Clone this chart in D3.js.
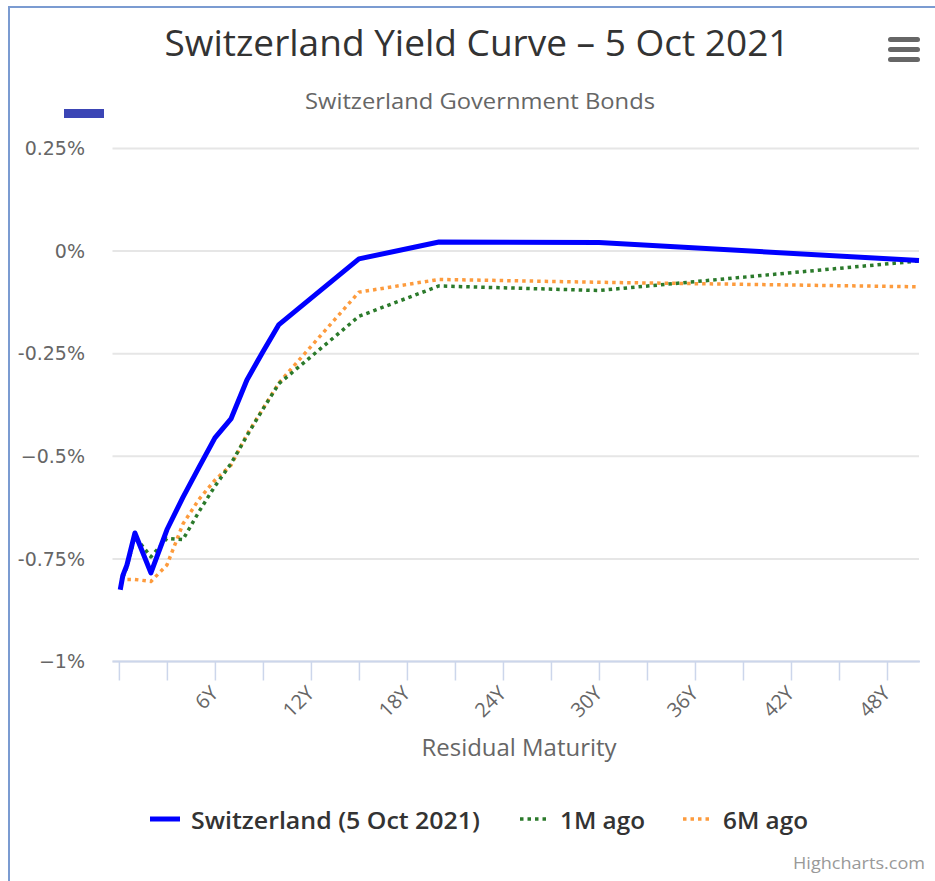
<!DOCTYPE html>
<html>
<head>
<meta charset="utf-8">
<script src="https://cdn.jsdelivr.net/npm/d3@7"></script>
<style>
  body { margin: 0; background: white; }
  svg { display: block; }
</style>
</head>
<body>
<svg id="chart"></svg>
<script>
// residual maturity in years
var maturities = [0.083, 0.25, 0.5, 1, 2, 3, 4, 5, 6, 7, 8, 9, 10, 15, 20, 30, 50];

// yields in %
var switzerland  = [-0.825, -0.79, -0.765, -0.687, -0.784, -0.679, -0.60, -0.527, -0.455, -0.409, -0.314, -0.245, -0.179, -0.019, 0.022, 0.021, -0.023];
var oneMonthAgo  = [null, -0.795, -0.77, -0.695, -0.745, -0.70, -0.703, -0.635, -0.573, -0.518, -0.45, -0.385, -0.323, -0.159, -0.085, -0.096, -0.024];
var sixMonthsAgo = [-0.795, -0.797, -0.80, -0.80, -0.805, -0.765, -0.665, -0.605, -0.558, -0.522, -0.447, -0.384, -0.321, -0.10, -0.069, -0.076, -0.087];

var seriesNames = ["Switzerland (5 Oct 2021)", "1M ago", "6M ago"];

var yTicks = [0.25, 0, -0.25, -0.5, -0.75, -1];
var yTickLabels = ["0.25%", "0%", "-0.25%", "\u22120.5%", "-0.75%", "\u22121%"];
var xTicks = [0, 3, 6, 9, 12, 15, 18, 21, 24, 27, 30, 33, 36, 39, 42, 45, 48];
var xLabelled = [6, 12, 18, 24, 30, 36, 42, 48];

var W = 935, H = 881;
var plot = {left: 112.5, right: 919, top: 148.5, bottom: 661.5};
var condensed = "'Liberation Sans Narrow', 'Open Sans', sans-serif";

var svg = d3.select("#chart").attr("width", W).attr("height", H);

// chart border (only top and left visible in the crop)
svg.append("rect")
   .attr("x", 9).attr("y", 7)
   .attr("width", W + 20).attr("height", H + 20)
   .attr("fill", "white")
   .attr("stroke", "#7b9bd1").attr("stroke-width", 2);

var x = d3.scaleLinear().domain([-0.4, 50]).range([plot.left, plot.right]);
var y = d3.scaleLinear().domain([-1, 0.25]).range([plot.bottom, plot.top]);

// title & subtitle
svg.append("text")
   .attr("x", 477).attr("y", 56)
   .attr("text-anchor", "middle")
   .attr("textLength", 625).attr("lengthAdjust", "spacingAndGlyphs")
   .style("font-family", condensed).style("font-size", "36px").style("fill", "#333")
   .text("Switzerland Yield Curve \u2013 5 Oct 2021");

svg.append("text")
   .attr("x", 480).attr("y", 109)
   .attr("text-anchor", "middle")
   .attr("textLength", 350).attr("lengthAdjust", "spacingAndGlyphs")
   .style("font-family", condensed).style("font-size", "22px").style("fill", "#666")
   .text("Switzerland Government Bonds");

// export menu icon
svg.append("g").selectAll("rect")
   .data([39.5, 49.5, 59.5])
   .enter().append("rect")
   .attr("x", 888).attr("y", d => d - 2.5)
   .attr("width", 32).attr("height", 5)
   .attr("rx", 2.5)
   .attr("fill", "#666");

// small blue marker top-left
svg.append("rect")
   .attr("x", 64).attr("y", 109).attr("width", 40).attr("height", 9)
   .attr("fill", "#3b45b5");

// grid + y labels
var gy = svg.append("g");
gy.selectAll("line")
  .data(yTicks)
  .enter().append("line")
  .attr("x1", plot.left).attr("x2", plot.right)
  .attr("y1", d => y(d)).attr("y2", d => y(d))
  .attr("stroke", "#e6e6e6").attr("stroke-width", 2);

gy.selectAll("text")
  .data(yTicks)
  .enter().append("text")
  .attr("x", 85).attr("y", d => y(d))
  .attr("dy", "0.35em")
  .attr("text-anchor", "end")
  .style("font-family", "'DejaVu Sans', sans-serif").style("font-size", "19px").style("fill", "#666")
  .text((d, i) => yTickLabels[i]);

// x axis
var xAxis = d3.axisBottom(x)
  .tickValues(xTicks)
  .tickSize(19)
  .tickFormat(d => xLabelled.indexOf(d) >= 0 ? d + "Y" : "");

var gx = svg.append("g")
  .attr("transform", "translate(0," + plot.bottom + ")")
  .call(xAxis);

gx.select(".domain").attr("stroke", "#ccd6eb").attr("stroke-width", 2)
  .attr("d", "M" + plot.left + ",0H" + (plot.right + 1));
gx.selectAll(".tick line").attr("stroke", "#ccd6eb").attr("stroke-width", 1.5);
gx.selectAll(".tick text")
  .style("font-family", condensed).style("font-size", "20px").style("fill", "#666")
  .attr("text-anchor", "end")
  .attr("y", 0).attr("dy", 0)
  .attr("transform", "translate(4,33) rotate(-45)");

svg.append("text")
   .attr("x", 519).attr("y", 756)
   .attr("text-anchor", "middle")
   .attr("textLength", 195).attr("lengthAdjust", "spacingAndGlyphs")
   .style("font-family", condensed).style("font-size", "23px").style("fill", "#666")
   .text("Residual Maturity");

// lines
var series = [
  {name: seriesNames[0], values: switzerland,  color: "#0000ff", width: 5, dash: null},
  {name: seriesNames[1], values: oneMonthAgo,  color: "#2b7a2b", width: 3.5, dash: "3.5,4"},
  {name: seriesNames[2], values: sixMonthsAgo, color: "#fd9b3d", width: 3.5, dash: "3.5,4"}
];

var line = d3.line()
  .defined(d => d[1] !== null)
  .x(d => x(d[0]))
  .y(d => y(d[1]));

svg.append("g").selectAll("path")
  .data(series.slice().reverse())
  .enter().append("path")
  .attr("d", s => line(maturities.map((m, i) => [m, s.values[i]])))
  .attr("fill", "none")
  .attr("stroke", s => s.color)
  .attr("stroke-width", s => s.width)
  .attr("stroke-dasharray", s => s.dash)
  .attr("stroke-linejoin", "round");

// legend
var legendX = [150, 520, 683];
var legendTextW = [289, 85, 85];
var lg = svg.append("g").selectAll("g")
  .data(series)
  .enter().append("g")
  .attr("transform", (d, i) => "translate(" + legendX[i] + ",819)");

lg.append("line")
  .attr("x1", 0).attr("x2", (d, i) => i === 0 ? 30 : 26)
  .attr("y1", 0).attr("y2", 0)
  .attr("stroke", d => d.color)
  .attr("stroke-width", d => d.width)
  .attr("stroke-dasharray", d => d.dash);

lg.append("text")
  .attr("x", (d, i) => i === 0 ? 41 : 40)
  .attr("y", 10)
  .attr("textLength", (d, i) => legendTextW[i]).attr("lengthAdjust", "spacingAndGlyphs")
  .style("font-family", condensed).style("font-size", "24px").style("font-weight", "600").style("fill", "#333")
  .text(d => d.name);

// credits
svg.append("text")
   .attr("x", 925).attr("y", 869)
   .attr("text-anchor", "end")
   .attr("textLength", 132).attr("lengthAdjust", "spacingAndGlyphs")
   .style("font-family", condensed).style("font-size", "17px").style("fill", "#999")
   .text("Highcharts.com");
</script>
</body>
</html>
